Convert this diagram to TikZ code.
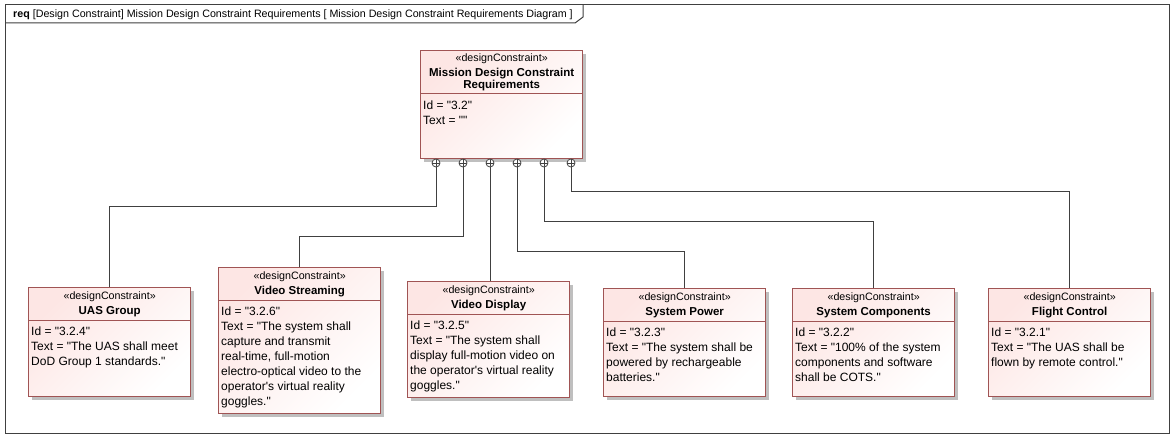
\documentclass[tikz,border=0pt]{standalone}
\usepackage{fontspec}
\setmainfont{Liberation Sans}[Ligatures=TeXOff]
\usepackage{tikz}
\usetikzlibrary{calc}
\usetikzlibrary{shadows}

\definecolor{dcred}{RGB}{160,84,84}
\definecolor{dcpink}{RGB}{253,230,228}
\definecolor{framegrey}{RGB}{64,64,64}

\newcommand{\dcreq}[6]{%
	\node[dcbox, minimum height=#4] (#1) at (#2,#3) {};
	\node[stereo] (#1-st) at ($(#1.north)+(0,12)$) {«designConstraint»};
	\node[dctitle] (#1-tt) at ($(#1.north)+(0,27)$) {#5};
	\draw[dcsep] ($(#1.north west)+(0,33)$)--($(#1.north east)+(0,33)$);
	\node[dcbody] (#1-tx) at ($(#1.north west)+(3,39.5)$) {#6};
}

\begin{document}
\begin{tikzpicture}[x=1pt, y=-1pt,
	dcbox/.style={draw=dcred, line width=1.3pt, top color=dcpink, bottom color=white, shading angle=45,
		minimum width=162pt, inner sep=0pt, anchor=north west,
		drop shadow={shadow xshift=3.5pt, shadow yshift=-3.5pt, fill=black!25, opacity=1}},
	dcsep/.style={draw=dcred, line width=1pt},
	stereo/.style={anchor=base, inner sep=0pt, font=\fontsize{10.7}{12}\selectfont},
	dctitle/.style={anchor=base, inner sep=0pt, align=center, font=\fontsize{11.5}{12}\selectfont\bfseries},
	dcbody/.style={anchor=north west, inner sep=0pt, align=left, font=\fontsize{12}{15}\selectfont},
	frame/.style={draw=framegrey, line width=1pt},
	link/.style={draw=framegrey, line width=1pt},
	port/.style={circle, draw=framegrey, fill=white, line width=0.8pt, minimum size=8pt, inner sep=0pt,
		path picture={\draw[framegrey, line width=0.8pt] (path picture bounding box.north)--(path picture bounding box.south)
			(path picture bounding box.west)--(path picture bounding box.east);}}]

	\fill[white] (0,0) rectangle (1174,438);
	\useasboundingbox (0,0) rectangle (1174,438);

	\draw[frame] (5,5) rectangle (1169,433);
	\draw[frame] (5,23)--(575,23)--(583,17)--(583,5);
	\node[anchor=base west, inner sep=0pt, font=\fontsize{10.7}{12}\selectfont] (hdr) at (13,18)
		{\textbf{req} [Design Constraint] Mission Design Constraint Requirements [ Mission Design Constraint Requirements Diagram ]};

	\node[dcbox, minimum height=108pt] (mdc) at (420,50) {};
	\node[stereo] (mdc-st) at ($(mdc.north)+(0,12)$) {«designConstraint»};
	\node[dctitle] (mdc-tt) at ($(mdc.north)+(0,39)$) {Mission Design Constraint\\Requirements};
	\draw[dcsep] ($(mdc.north west)+(0,44)$)--($(mdc.north east)+(0,44)$);
	\node[dcbody] (mdc-tx) at ($(mdc.north west)+(3,50.5)$) {Id = "3.2"\\Text = ""};

	\dcreq{uas}{28}{287}{109}{UAS Group}{Id = "3.2.4"\\Text = "The UAS shall meet\\DoD Group 1 standards."}
	\dcreq{vs}{218}{267}{146}{Video Streaming}{Id = "3.2.6"\\Text = "The system shall\\capture and transmit\\real-time, full-motion\\electro-optical video to the\\operator's virtual reality\\goggles."}
	\dcreq{vd}{407}{281}{116}{Video Display}{Id = "3.2.5"\\Text = "The system shall\\display full-motion video on\\the operator's virtual reality\\goggles."}
	\dcreq{sp}{603}{288}{108}{System Power}{Id = "3.2.3"\\Text = "The system shall be\\powered by rechargeable\\batteries."}
	\dcreq{sc}{792}{288}{108}{System Components}{Id = "3.2.2"\\Text = "100\% of the system\\components and software\\shall be COTS."}
	\dcreq{fc}{988}{288}{108}{Flight Control}{Id = "3.2.1"\\Text = "The UAS shall be\\flown by remote control."}

	\foreach \i/\x in {1/436,2/463,3/490,4/517,5/544,6/571}
		\node[port] (p\i) at (\x,163) {};

	\draw[link] (p1.south)--++(0,39)-|(uas.north);
	\draw[link] (p2.south)--++(0,69)-|(vs.north);
	\draw[link] (p3.south)--(p3.south |- vd.north);
	\draw[link] (p4.south)--++(0,84)-|(sp.north);
	\draw[link] (p5.south)--++(0,54)-|(sc.north);
	\draw[link] (p6.south)--++(0,24)-|(fc.north);
\end{tikzpicture}
\end{document}
